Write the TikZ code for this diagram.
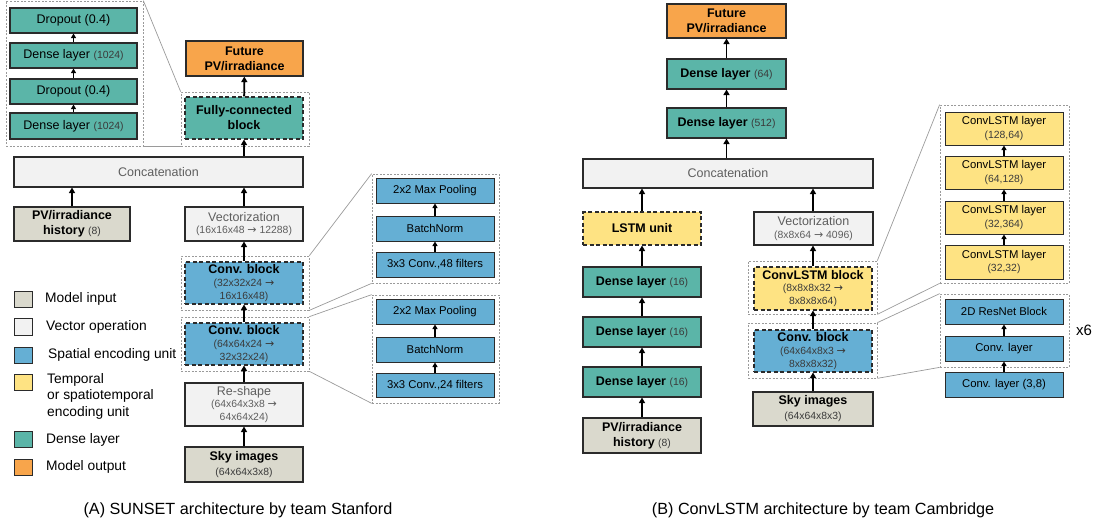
\documentclass[tikz,border=0pt]{standalone}
\usepackage{fontspec}
\setmainfont{Liberation Sans}
\newfontfamily\arrfont{DejaVu Sans}
\usetikzlibrary{arrows.meta}
\definecolor{cteal}{HTML}{5BB5A8}
\definecolor{cblue}{HTML}{65AFD4}
\definecolor{cyel}{HTML}{FEE383}
\definecolor{corg}{HTML}{F8A54B}
\definecolor{cbeige}{HTML}{DAD9CD}
\definecolor{cvec}{HTML}{F2F2F2}
\definecolor{cborder}{HTML}{2B2B2B}
\definecolor{cgtext}{HTML}{5E5E5E}
\definecolor{cptext}{HTML}{3A3A3A}
\definecolor{cdash}{HTML}{9A9A9A}
\newcommand\mainsz{\fontsize{12.5}{15}\selectfont}
\newcommand\tightsz{\fontsize{12.5}{12.8}\selectfont}
\newcommand\smsz{\fontsize{10.4}{12.8}\selectfont}
\newcommand\detsz{\fontsize{11.3}{13.5}\selectfont}
\newcommand\legsz{\fontsize{13.8}{16.5}\selectfont}
\newcommand\capsz{\fontsize{16.2}{18}\selectfont}
\newcommand\pn[1]{{\smsz\mdseries\color{cptext}#1}}
\newcommand\ra{{\arrfont\fontsize{11}{11}\selectfont →}}
\newcommand\bx[7]{\node[#6, minimum width={#4-#2}, minimum height={#5-#3}] (#1) at ({(#2+#4)/2},{(#3+#5)/2}) {#7};}
\tikzset{
  box/.style={draw=cborder, line width=1.1pt, inner sep=0pt, align=center, text=black, font=\mainsz},
  tight/.style={font=\tightsz},
  dbox/.style={box, dash pattern=on 4pt off 2.5pt},
  detbox/.style={box, line width=1pt, font=\detsz},
  outerbox/.style={draw=cdash, line width=0.7pt, dash pattern=on 2pt off 1.5pt, inner sep=0pt},
  arr/.style={-{Triangle[length=5.5pt,width=6pt]}, line width=1.9pt, draw=black},
  sarr/.style={-{Triangle[length=4.5pt,width=5pt]}, line width=1.2pt, draw=black},
  zl/.style={draw=cdash, line width=0.7pt},
  legsq/.style={draw=cborder, line width=0.9pt, inner sep=0pt},
  legtxt/.style={anchor=west, font=\legsz, align=left, inner sep=0pt, text=black}
}
\begin{document}
\begin{tikzpicture}[x=1pt,y=-1pt]
\useasboundingbox (0,0) rectangle (1098,527);
%% ================= Panel A =================
% outer dashed boxes
\bx{detO}{6}{1}{143}{146}{outerbox}{}
\bx{fcO}{181}{92}{309}{146}{outerbox}{}
\bx{cuO}{181}{256}{309}{310}{outerbox}{}
\bx{clO}{181}{317}{309}{371}{outerbox}{}
\bx{duO}{372}{174}{499}{283}{outerbox}{}
\bx{dlO}{372}{295}{499}{403}{outerbox}{}
% detail (fully connected)
\bx{dA1}{10}{8}{137}{33}{box,fill=cteal}{Dropout (0.4)}
\bx{dA2}{10}{43}{137}{68}{box,fill=cteal}{Dense layer \pn{(1024)}}
\bx{dA3}{10}{79}{137}{104}{box,fill=cteal}{Dropout (0.4)}
\bx{dA4}{10}{113}{137}{139}{box,fill=cteal}{Dense layer \pn{(1024)}}
\draw[sarr] (dA4) -- (dA3);
\draw[sarr] (dA3) -- (dA2);
\draw[sarr] (dA2) -- (dA1);
% main column
\bx{futA}{186}{41}{303}{76}{box,fill=corg,font=\mainsz\bfseries}{Future\\PV/irradiance}
\bx{fcA}{185}{97}{303}{139}{dbox,fill=cteal,font=\mainsz\bfseries}{Fully-connected\\block}
\bx{concA}{14}{157}{303}{187}{box,fill=cvec,text=cgtext}{Concatenation}
\bx{pvA}{14}{207}{130}{241}{box,fill=cbeige,font=\mainsz\bfseries}{PV/irradiance\\history \pn{(8)}}
\bx{vecA}{185}{207}{303}{241}{box,tight,fill=cvec,text=cgtext}{Vectorization\\{\smsz (16x16x48 \ra{} 12288)}}
\bx{cbU}{185}{262}{303}{304}{dbox,tight,fill=cblue}{\textbf{Conv. block}\\\pn{(32x32x24 \ra}\\\pn{16x16x48)}}
\bx{cbL}{185}{323}{303}{365}{dbox,tight,fill=cblue}{\textbf{Conv. block}\\\pn{(64x64x24 \ra}\\\pn{32x32x24)}}
\bx{rsA}{185}{383}{303}{426}{box,tight,fill=cvec,text=cgtext}{Re-shape\\{\smsz (64x64x3x8 \ra}\\{\smsz 64x64x24)}}
\bx{skyA}{185}{447}{303}{482}{box,fill=cbeige}{\textbf{Sky images}\\\pn{(64x64x3x8)}}
\draw[arr] (skyA) -- (rsA);
\draw[arr] (rsA) -- (cbL);
\draw[arr] (cbL) -- (cbU);
\draw[arr] (cbU) -- (vecA);
\draw[arr] (vecA) -- (vecA|-concA.south);
\draw[arr] (pvA) -- (pvA|-concA.south);
\draw[arr] (fcA|-concA.north) -- (fcA);
\draw[arr] (fcA) -- (futA);
% conv details
\bx{u1}{376}{178}{494}{203}{detbox,fill=cblue}{2x2 Max Pooling}
\bx{u2}{376}{216}{494}{241}{detbox,fill=cblue}{BatchNorm}
\bx{u3}{376}{252}{494}{277}{detbox,fill=cblue}{3x3 Conv.,48 filters}
\bx{l1}{376}{299}{494}{324}{detbox,fill=cblue}{2x2 Max Pooling}
\bx{l2}{376}{337}{494}{362}{detbox,fill=cblue}{BatchNorm}
\bx{l3}{376}{373}{494}{397}{detbox,fill=cblue}{3x3 Conv.,24 filters}
\draw[sarr] (u3) -- (u2);
\draw[sarr] (u2) -- (u1);
\draw[sarr] (l3) -- (l2);
\draw[sarr] (l2) -- (l1);
% zoom lines
\draw[zl] (detO.north east) -- (fcO.north west);
\draw[zl] (detO.south east) -- (fcO.south west);
\draw[zl] (cuO.north east) -- (duO.north west);
\draw[zl] (cuO.south east) -- (duO.south west);
\draw[zl] (clO.north east) -- (dlO.north west);
\draw[zl] (clO.south east) -- (dlO.south west);
% legend
\bx{q1}{14}{291}{32}{307}{legsq,fill=cbeige}{}
\bx{q2}{14}{318}{32}{335}{legsq,fill=cvec}{}
\bx{q3}{14}{347}{32}{363}{legsq,fill=cblue}{}
\bx{q4}{14}{374}{32}{390}{legsq,fill=cyel}{}
\bx{q5}{14}{431}{32}{447}{legsq,fill=cteal}{}
\bx{q6}{14}{459}{32}{475}{legsq,fill=corg}{}
\node[legtxt] (t1) at (45,299) {Model input};
\node[legtxt] (t2) at (46,327) {Vector operation};
\node[legtxt] (t3) at (48,355) {Spatial encoding unit};
\node[legtxt,anchor=north west] (t4) at (47,373) {Temporal\\or spatiotemporal\\encoding unit};
\node[legtxt] (t5) at (46,440) {Dense layer};
\node[legtxt] (t6) at (46,467) {Model output};
\node[font=\capsz, inner sep=0pt] (capA) at (238,510) {(A) SUNSET architecture by team Stanford};
%% ================= Panel B =================
\bx{clsO}{748}{261}{877}{314}{outerbox}{}
\bx{cvO}{748}{323}{877}{378}{outerbox}{}
\bx{dcO}{940}{105}{1069}{283}{outerbox}{}
\bx{drO}{940}{294}{1069}{367}{outerbox}{}
\bx{futB}{667}{4}{786}{38}{box,fill=corg,font=\mainsz\bfseries}{Future\\PV/irradiance}
\bx{d64}{667}{59}{786}{89}{box,fill=cteal}{\textbf{Dense layer} \pn{(64)}}
\bx{d512}{667}{108}{786}{138}{box,fill=cteal}{\textbf{Dense layer} \pn{(512)}}
\bx{concB}{583}{159}{873}{188}{box,fill=cvec,text=cgtext}{Concatenation}
\bx{lstm}{583}{212}{701}{245}{dbox,fill=cyel,font=\mainsz\bfseries}{LSTM unit}
\bx{dB1}{583}{267}{701}{297}{box,fill=cteal}{\textbf{Dense layer} \pn{(16)}}
\bx{dB2}{583}{317}{701}{347}{box,fill=cteal}{\textbf{Dense layer} \pn{(16)}}
\bx{dB3}{583}{367}{701}{397}{box,fill=cteal}{\textbf{Dense layer} \pn{(16)}}
\bx{pvB}{583}{418}{701}{453}{box,fill=cbeige,font=\mainsz\bfseries}{PV/irradiance\\history \pn{(8)}}
\bx{vecB}{754}{212}{873}{245}{box,tight,fill=cvec,text=cgtext}{Vectorization\\{\smsz (8x8x64 \ra{} 4096)}}
\bx{cls}{754}{267}{872}{310}{dbox,tight,fill=cyel}{\textbf{ConvLSTM block}\\\pn{(8x8x8x32 \ra}\\\pn{8x8x8x64)}}
\bx{cvB}{754}{330}{872}{372}{dbox,tight,fill=cblue}{\textbf{Conv. block}\\\pn{(64x64x8x3 \ra}\\\pn{8x8x8x32)}}
\bx{skyB}{753}{392}{873}{426}{box,fill=cbeige}{\textbf{Sky images}\\\pn{(64x64x8x3)}}
\draw[arr] (pvB) -- (dB3);
\draw[arr] (dB3) -- (dB2);
\draw[arr] (dB2) -- (dB1);
\draw[arr] (dB1) -- (lstm);
\draw[arr] (lstm) -- (lstm|-concB.south);
\draw[arr] (skyB) -- (skyB.north|-cvB.south);
\draw[arr] (skyB.north|-cvB.north) -- (skyB.north|-cls.south);
\draw[arr] (skyB.north|-cls.north) -- (skyB.north|-vecB.south);
\draw[arr] (skyB.north|-vecB.north) -- (skyB.north|-concB.south);
\draw[arr] (d512|-concB.north) -- (d512);
\draw[arr] (d512) -- (d64);
\draw[arr] (d64) -- (futB);
% ConvLSTM details
\bx{c1}{945}{112}{1063}{145}{detbox,fill=cyel}{ConvLSTM layer\\\pn{(128,64)}}
\bx{c2}{945}{156}{1063}{189}{detbox,fill=cyel}{ConvLSTM layer\\\pn{(64,128)}}
\bx{c3}{945}{201}{1063}{234}{detbox,fill=cyel}{ConvLSTM layer\\\pn{(32,364)}}
\bx{c4}{945}{245}{1063}{279}{detbox,fill=cyel}{ConvLSTM layer\\\pn{(32,32)}}
\draw[sarr] (c4) -- (c3);
\draw[sarr] (c3) -- (c2);
\draw[sarr] (c2) -- (c1);
\bx{r1}{945}{299}{1063}{324}{detbox,fill=cblue}{2D ResNet Block}
\bx{r2}{945}{336}{1063}{361}{detbox,fill=cblue}{Conv. layer}
\bx{r3}{945}{372}{1063}{397}{detbox,fill=cblue}{Conv. layer (3,8)}
\draw[sarr] (r3) -- (r2);
\draw[sarr] (r2) -- (r1);
\node[font=\fontsize{15}{18}\selectfont, inner sep=0pt, anchor=west] (x6) at (1076,330) {x6};
\draw[zl] (clsO.north east) -- (dcO.north west);
\draw[zl] (clsO.south east) -- (dcO.south west);
\draw[zl] (cvO.north east) -- (drO.north west);
\draw[zl] (cvO.south east) -- (drO.south west);
\node[font=\capsz, inner sep=0pt] (capB) at (823,510) {(B) ConvLSTM architecture by team Cambridge};
\end{tikzpicture}
\end{document}
